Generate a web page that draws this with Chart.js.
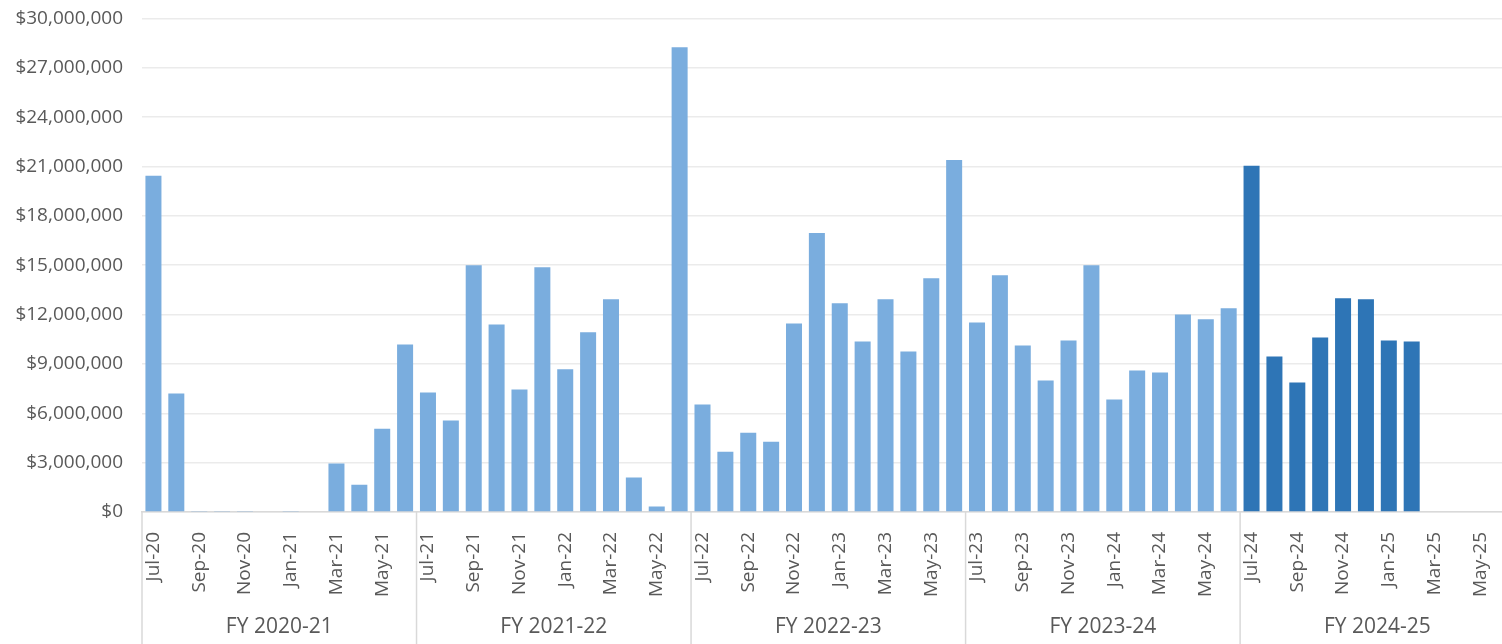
<!DOCTYPE html>
<html>
<head>
<meta charset="utf-8">
<script src="https://cdn.jsdelivr.net/npm/chart.js@4.4.1/dist/chart.umd.min.js"></script>
<style>
  html, body { margin: 0; padding: 0; background: #fff; overflow: hidden; }
  #barChart { display: block; margin-top: -12px; }
</style>
</head>
<body>
<canvas id="barChart" width="1538" height="656"></canvas>
<script>
// months, Jul-20 .. Jun-25
var months = [
    'Jul-20','Aug-20','Sep-20','Oct-20','Nov-20','Dec-20','Jan-21','Feb-21','Mar-21','Apr-21','May-21','Jun-21',
    'Jul-21','Aug-21','Sep-21','Oct-21','Nov-21','Dec-21','Jan-22','Feb-22','Mar-22','Apr-22','May-22','Jun-22',
    'Jul-22','Aug-22','Sep-22','Oct-22','Nov-22','Dec-22','Jan-23','Feb-23','Mar-23','Apr-23','May-23','Jun-23',
    'Jul-23','Aug-23','Sep-23','Oct-23','Nov-23','Dec-23','Jan-24','Feb-24','Mar-24','Apr-24','May-24','Jun-24',
    'Jul-24','Aug-24','Sep-24','Oct-24','Nov-24','Dec-24','Jan-25','Feb-25','Mar-25','Apr-25','May-25','Jun-25'
];
var fyLabels = ['FY 2020-21','FY 2021-22','FY 2022-23','FY 2023-24','FY 2024-25'];

var fy2021 = [20430000, 7200000, 60000, 60000, 60000, 0, 60000, 0, 2950000, 1650000, 5060000, 10180000];
var fy2122 = [7270000, 5560000, 15000000, 11400000, 7450000, 14880000, 8670000, 10920000, 12930000, 2100000, 330000, 28240000];
var fy2223 = [6530000, 3660000, 4820000, 4270000, 11460000, 16950000, 12680000, 10370000, 12930000, 9760000, 14210000, 21400000];
var fy2324 = [11520000, 14390000, 10120000, 7990000, 10430000, 15000000, 6830000, 8600000, 8480000, 12010000, 11710000, 12380000];
var fy2425 = [21040000, 9450000, 7870000, 10610000, 12990000, 12930000, 10430000, 10370000, null, null, null, null];

var yTicks = { min: 0, max: 30000000, step: 3000000 };

var values = fy2021.concat(fy2122, fy2223, fy2324, fy2425);
var barColors = values.map(function (v, i) {
    return i >= 48 ? '#2E75B6' : '#7AADDE';
});

var textColor = '#595959';
var fontFamily = '"Open Sans", sans-serif';

// vertical separators between financial years, under the axis
var fySeparators = {
    id: 'fySeparators',
    afterDraw: function (chart) {
        var x = chart.scales.x;
        var ctx = chart.ctx;
        var half = (x.getPixelForValue(1) - x.getPixelForValue(0)) / 2;
        ctx.save();
        ctx.strokeStyle = '#D9D9D9';
        ctx.lineWidth = 1.5;
        for (var g = 0; g <= fyLabels.length; g++) {
            var idx = Math.min(g * 12, months.length - 1);
            var px = g * 12 < months.length ? x.getPixelForValue(idx) - half : x.getPixelForValue(idx) + half;
            ctx.beginPath();
            ctx.moveTo(px, chart.chartArea.bottom);
            ctx.lineTo(px, chart.height);
            ctx.stroke();
        }
        ctx.restore();
    }
};

var ctxB = document.getElementById('barChart').getContext('2d');
var myChart = new Chart(ctxB, {
    type: 'bar',
    data: {
        labels: months,
        datasets: [{
            label: 'Amount',
            data: values,
            backgroundColor: barColors,
            borderWidth: 0,
            categoryPercentage: 1.0,
            barPercentage: 0.7
        }]
    },
    options: {
        responsive: false,
        animation: false,
        devicePixelRatio: 1,
        layout: { padding: 0 },
        plugins: {
            legend: { display: false },
            tooltip: { enabled: false }
        },
        scales: {
            y: {
                min: yTicks.min,
                max: yTicks.max,
                border: { display: false },
                grid: { color: '#EBEBEB', lineWidth: 1.5, drawTicks: false },
                afterFit: function (s) { s.width = 142; },
                ticks: {
                    stepSize: yTicks.step,
                    padding: 19,
                    color: textColor,
                    font: { family: fontFamily, size: 19 },
                    callback: function (v) { return '$' + Number(v).toLocaleString('en-US'); }
                }
            },
            x: {
                grid: { display: false },
                border: { color: '#D9D9D9', width: 1.5 },
                afterFit: function (s) { s.height = 92; },
                ticks: {
                    autoSkip: false,
                    minRotation: 90,
                    maxRotation: 90,
                    padding: 12,
                    color: textColor,
                    font: { family: fontFamily, size: 19 },
                    callback: function (v, i) { return i % 2 === 0 ? months[i] : ''; }
                }
            },
            x2: {
                type: 'category',
                labels: fyLabels,
                position: 'bottom',
                offset: true,
                grid: { display: false, drawTicks: false },
                border: { display: false },
                afterFit: function (s) { s.height = 40; },
                ticks: {
                    padding: 10,
                    color: textColor,
                    font: { family: fontFamily, size: 21 }
                }
            }
        }
    },
    plugins: [fySeparators]
});
</script>
</body>
</html>
